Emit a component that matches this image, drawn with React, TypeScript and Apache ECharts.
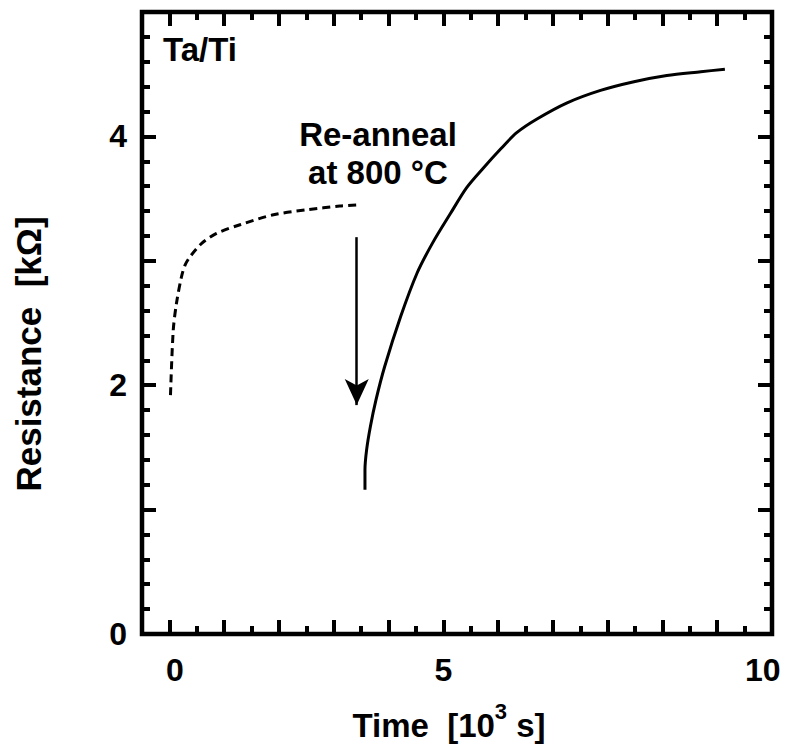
import React, { useEffect, useRef } from 'react';
import * as echarts from 'echarts';

// Dashed curve (before re-anneal)
const dashedX = [0.02, 0.07, 0.13, 0.22, 0.29, 0.39, 0.59, 0.86, 1.29, 1.9, 2.51, 3.11, 3.45];
const dashedY = [1.92, 2.44, 2.66, 2.87, 2.97, 3.04, 3.14, 3.22, 3.29, 3.37, 3.41, 3.44, 3.45];

// Solid curve (after re-anneal at 800 °C)
const solidX = [3.57, 3.57, 3.6, 3.67, 3.77, 3.93, 4.22, 4.52, 4.8, 5.13, 5.43, 5.74, 6.05, 6.34, 6.71, 7.26, 7.87, 8.48, 9.08, 9.7, 10.14];
const solidY = [1.16, 1.32, 1.48, 1.67, 1.88, 2.15, 2.55, 2.9, 3.14, 3.38, 3.59, 3.75, 3.9, 4.03, 4.14, 4.27, 4.37, 4.44, 4.49, 4.52, 4.54];

// Axes
const xMajorTicks = [0, 1, 2, 3, 4, 5, 6, 7, 8, 9, 10];
const xMinorTicks = [0.5, 1.5, 2.5, 3.5, 4.5, 5.5, 6.5, 7.5, 8.5, 9.5, 10.5];
const xTickLabels = [0, 5, 10];
const yTickLabels = [0, 2, 4];

// Arrow annotation (data coordinates)
const arrowX = 3.42;
const arrowTop = 3.19;
const arrowTip = 1.84;

const FONT = '"Liberation Sans", Arial, Helvetica, sans-serif';

export default function App() {
  const ref = useRef<HTMLDivElement>(null);

  useEffect(() => {
    if (!ref.current) return;
    const chart = echarts.init(ref.current, undefined, { renderer: 'svg' });

    const baseX = (position: 'top' | 'bottom') => ({
      type: 'value',
      position,
      min: -0.5,
      max: 11,
      splitLine: { show: false },
      axisLine: { show: false, onZero: false },
    });
    const labelStyle = { fontSize: 32, fontWeight: 'bold', fontFamily: FONT, color: '#000' };
    const titleStyle = { fontSize: 33, fontWeight: 'bold', fontFamily: FONT, color: '#000' };

    const option: any = {
      animation: false,
      backgroundColor: '#fff',
      grid: {
        left: 142,
        top: 12,
        width: 630,
        height: 622,
        show: true,
        borderColor: '#000',
        borderWidth: 4.5,
        backgroundColor: 'transparent',
        outerBoundsMode: 'none',
      },
      xAxis: [
        {
          ...baseX('bottom'),
          axisTick: { show: true, inside: true, length: 14, customValues: xMajorTicks, lineStyle: { color: '#000', width: 4 } },
          axisLabel: {
            show: true,
            customValues: xTickLabels,
            margin: 20,
            ...labelStyle,
            formatter: (v: number) => (v === 10 ? '{far|10}' : v === 0 ? '{near|0}' : String(v)),
            rich: {
              far: { ...labelStyle, padding: [0, 0, 0, 91] },
              near: { ...labelStyle, padding: [0, 0, 0, 11] },
            },
          },
          name: '{m|Time  [10}{s|3}{m| s]}',
          nameLocation: 'middle',
          nameGap: 66,
          nameTextStyle: {
            ...titleStyle,
            padding: [0, 16, 0, 0],
            rich: {
              m: { ...titleStyle, lineHeight: 50, verticalAlign: 'middle' },
              s: { fontSize: 22, fontWeight: 'bold', fontFamily: FONT, color: '#000', lineHeight: 22, verticalAlign: 'top' },
            },
          },
        },
        {
          ...baseX('bottom'),
          axisTick: { show: true, inside: true, length: 8, customValues: xMinorTicks, lineStyle: { color: '#000', width: 4 } },
          axisLabel: { show: false },
        },
        {
          ...baseX('top'),
          axisTick: { show: true, inside: true, length: 14, customValues: xMajorTicks, lineStyle: { color: '#000', width: 4 } },
          axisLabel: { show: false },
        },
        {
          ...baseX('top'),
          axisTick: { show: true, inside: true, length: 8, customValues: xMinorTicks, lineStyle: { color: '#000', width: 4 } },
          axisLabel: { show: false },
        },
      ],
      yAxis: [
        {
          type: 'value',
          position: 'left',
          min: 0,
          max: 5,
          interval: 1,
          splitLine: { show: false },
          axisLine: { show: false, onZero: false },
          axisTick: { show: true, inside: true, length: 14, lineStyle: { color: '#000', width: 4 } },
          minorTick: { show: true, splitNumber: 5, length: 8, lineStyle: { color: '#000', width: 4 } },
          minorSplitLine: { show: false },
          axisLabel: { show: true, customValues: yTickLabels, margin: 15, ...labelStyle },
          name: 'Resistance  [kΩ]',
          nameLocation: 'middle',
          nameGap: 96,
          nameTextStyle: { ...titleStyle, fontSize: 35, padding: [0, 62, 0, 0] },
        },
        {
          type: 'value',
          position: 'right',
          min: 0,
          max: 5,
          interval: 1,
          splitLine: { show: false },
          axisLine: { show: false, onZero: false },
          axisTick: { show: true, inside: true, length: 14, lineStyle: { color: '#000', width: 4 } },
          minorTick: { show: true, splitNumber: 5, length: 8, lineStyle: { color: '#000', width: 4 } },
          minorSplitLine: { show: false },
          axisLabel: { show: false },
        },
      ],
      graphic: [
        {
          type: 'text',
          left: 163,
          top: 33,
          style: { text: 'Ta/Ti', font: `bold 33px ${FONT}`, fill: '#000' },
        },
        {
          type: 'text',
          x: 378,
          y: 115,
          style: {
            text: 'Re-anneal\nat 800 °C',
            font: `bold 33px ${FONT}`,
            fill: '#000',
            textAlign: 'center',
            textVerticalAlign: 'top',
            lineHeight: 38,
          },
        },
      ],
      series: [
        {
          type: 'line',
          xAxisIndex: 0,
          yAxisIndex: 0,
          data: dashedX.map((x, i) => [x, dashedY[i]]),
          symbol: 'none',
          smooth: 0.3,
          lineStyle: { color: '#000', width: 3, type: [8, 5] },
          silent: true,
        },
        {
          type: 'line',
          xAxisIndex: 0,
          yAxisIndex: 0,
          data: solidX.map((x, i) => [x, solidY[i]]),
          symbol: 'none',
          smooth: 0.3,
          lineStyle: { color: '#000', width: 3 },
          silent: true,
          markLine: {
            silent: true,
            symbol: ['none', 'arrow'],
            symbolSize: [18, 26],
            label: { show: false },
            lineStyle: { color: '#000', width: 2.5, type: 'solid' },
            emphasis: { disabled: true },
            data: [[{ coord: [arrowX, arrowTop] }, { coord: [arrowX, arrowTip] }]],
          },
        },
      ],
    };

    chart.setOption(option);
    return () => chart.dispose();
  }, []);

  return (
    <div
      ref={ref}
      style={{ position: 'fixed', left: 0, top: 0, width: 788, height: 745, background: '#fff' }}
    />
  );
}
